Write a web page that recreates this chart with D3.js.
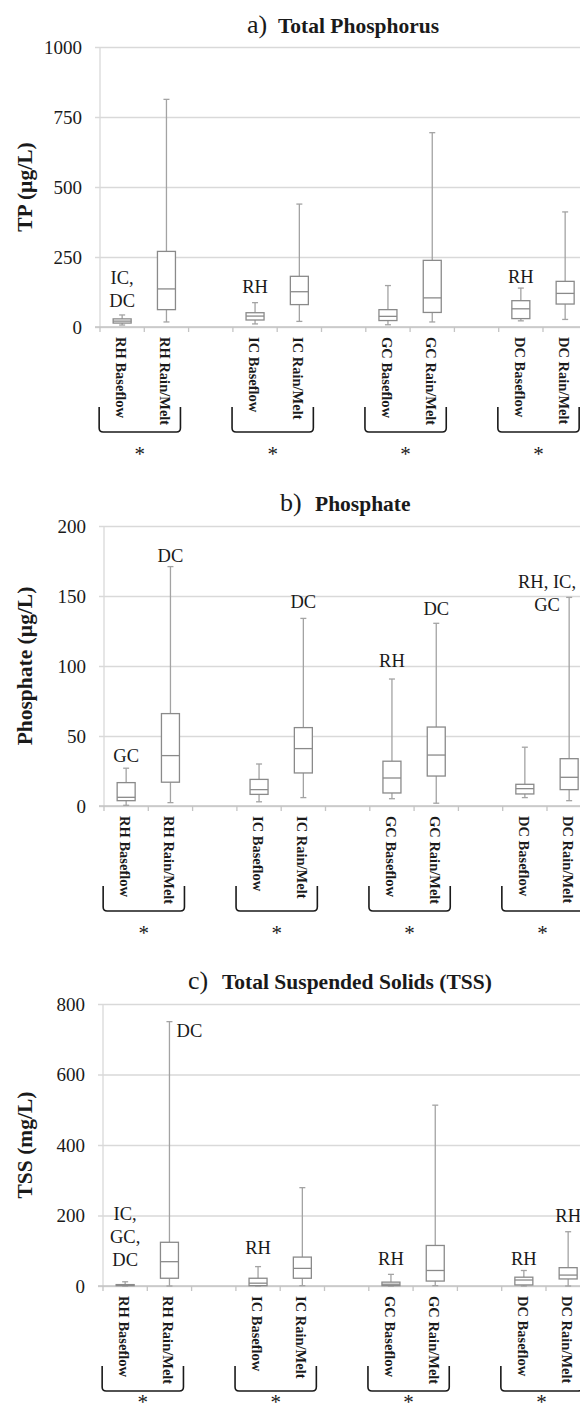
<!DOCTYPE html>
<html>
<head>
<meta charset="utf-8">
<script src="https://cdn.jsdelivr.net/npm/d3@7"></script>
<style>
  html, body { margin: 0; padding: 0; background: #fff; }
  svg { display: block; }
  svg text { font-family: "Liberation Serif", "Times New Roman", serif !important; fill: #1a1a1a; }
</style>
</head>
<body>
<svg id="chart" width="580" height="1414"></svg>
<script>
// ---------------- DATA ----------------
const categories = ["RH Baseflow", "RH Rain/Melt", "IC Baseflow", "IC Rain/Melt",
                    "GC Baseflow", "GC Rain/Melt", "DC Baseflow", "DC Rain/Melt"];
const sites = ["RH", "IC", "GC", "DC"];

// each entry: [min, q1, median, q3, max]
const tpValues = [
  [7, 14, 21, 29, 43],
  [18, 62, 136, 270, 813],
  [11, 25, 39, 51, 87],
  [20, 80, 126, 181, 439],
  [8, 23, 38, 62, 148],
  [18, 52, 104, 238, 694],
  [22, 30, 65, 94, 139],
  [27, 82, 120, 163, 411]
];
const phosphateValues = [
  [0.5, 3.8, 6.2, 16.7, 27],
  [2.4, 17, 36, 66, 171],
  [3, 8.3, 11.7, 19, 30],
  [6, 23.6, 41, 56, 134],
  [5.2, 9.3, 20, 32, 90.7],
  [2, 21.4, 36.4, 56.4, 130.5],
  [6, 8.6, 12.4, 15.5, 42],
  [3.8, 11.7, 20.5, 33.8, 149]
];
const tssValues = [
  [0, 1, 2, 4, 12],
  [0, 22, 69, 124, 750],
  [0, 1, 8, 22, 55],
  [1, 22, 50, 82, 279],
  [0, 1, 5, 11, 33],
  [1, 14, 44, 115, 513],
  [0, 3, 17, 25, 44],
  [0, 20, 31, 52, 154]
];

const tpTicks = [0, 250, 500, 750, 1000];
const phosphateTicks = [0, 50, 100, 150, 200];
const tssTicks = [0, 200, 400, 600, 800];

// significance letters: category, lines, value of the last line (y data units)
const tpNotes = [
  { cat: "RH Baseflow", lines: ["IC,", "DC"], at: 93 },
  { cat: "IC Baseflow", lines: ["RH"], at: 146 },
  { cat: "DC Baseflow", lines: ["RH"], at: 182 }
];
const phosphateNotes = [
  { cat: "RH Baseflow", lines: ["GC"], at: 36 },
  { cat: "RH Rain/Melt", lines: ["DC"], at: 179 },
  { cat: "IC Rain/Melt", lines: ["DC"], at: 146 },
  { cat: "GC Baseflow", lines: ["RH"], at: 104 },
  { cat: "GC Rain/Melt", lines: ["DC"], at: 141 },
  { cat: "DC Rain/Melt", lines: ["RH, IC,", "GC"], at: 144, shift: -0.5 }
];
const tssNotes = [
  { cat: "RH Baseflow", lines: ["IC,", "GC,", "DC"], at: 74 },
  { cat: "RH Rain/Melt", lines: ["DC"], at: 726, shift: 0.16, anchor: "start" },
  { cat: "IC Baseflow", lines: ["RH"], at: 108 },
  { cat: "GC Baseflow", lines: ["RH"], at: 77 },
  { cat: "DC Baseflow", lines: ["RH"], at: 79 },
  { cat: "DC Rain/Melt", lines: ["RH"], at: 199 }
];

// ---------------- LAYOUT ----------------
const panels = [
  { letter: "a)", title: "Total Phosphorus", yLabel: "TP (\u00b5g/L)", values: tpValues, ticks: tpTicks, notes: tpNotes,
    x0: 100, top: 47, bottom: 327, titleY: 33, letterX: 247, titleX: 278 },
  { letter: "b)", title: "Phosphate", yLabel: "Phosphate (\u00b5g/L)", values: phosphateValues, ticks: phosphateTicks, notes: phosphateNotes,
    x0: 104, top: 526, bottom: 806, titleY: 511, letterX: 280, titleX: 315 },
  { letter: "c)", title: "Total Suspended Solids (TSS)", yLabel: "TSS (mg/L)", values: tssValues, ticks: tssTicks, notes: tssNotes,
    x0: 103, top: 1004, bottom: 1286, titleY: 989, letterX: 188, titleX: 222 }
];

const bandW = 44.3;
const slots = [];
sites.forEach((s, i) => {
  categories.filter(c => c.startsWith(s + " ")).forEach(c => slots.push(c));
  if (i < sites.length - 1) slots.push("gap" + i);
});

const svg = d3.select("#chart");
const serif = "Liberation Serif, Times New Roman, serif";
const boxW = 18, capW = 6;
const gridColor = "#d9d9d9", boxColor = "#8a8a8a", whiskColor = "#a3a3a3";

panels.forEach(p => {
  const g = svg.append("g").attr("font-family", serif);
  const x = d3.scaleBand().domain(slots).range([p.x0, p.x0 + slots.length * bandW]).paddingInner(0).paddingOuter(0);
  const y = d3.scaleLinear().domain([p.ticks[0], p.ticks[p.ticks.length - 1]]).range([p.bottom, p.top]);
  const cx = c => x(c) + x.bandwidth() / 2;

  // title
  const t = g.append("text").attr("y", p.titleY);
  t.append("tspan").attr("x", p.letterX).style("font-size", "26px").text(p.letter);
  t.append("tspan").attr("x", p.titleX).style("font-size", "21.5px").style("font-weight", "bold").text(p.title);

  // y axis with gridlines
  const yAxis = d3.axisLeft(y).tickValues(p.ticks).tickSize(0).tickPadding(13).tickFormat(d3.format("d"));
  const ya = g.append("g").attr("transform", `translate(${p.x0 - 5},0)`).call(yAxis)
    .attr("font-family", serif).attr("font-size", 19);
  ya.select(".domain").remove();
  ya.selectAll(".tick line").attr("x1", 0).attr("x2", 580 - p.x0 + 10)
    .attr("stroke", gridColor).attr("stroke-width", 1.3);
  ya.selectAll(".tick text").attr("font-family", serif).attr("fill", "#1a1a1a");

  // vertical axis line
  g.append("line").attr("x1", p.x0).attr("x2", p.x0).attr("y1", p.top).attr("y2", p.bottom)
    .attr("stroke", gridColor).attr("stroke-width", 1.3);

  // x axis baseline + ticks at band boundaries
  g.append("line").attr("x1", p.x0 - 5).attr("x2", 580).attr("y1", p.bottom).attr("y2", p.bottom)
    .attr("stroke", "#c4c4c4").attr("stroke-width", 1.3);
  g.selectAll(".xt").data(slots).enter().append("line")
    .attr("x1", d => x(d)).attr("x2", d => x(d))
    .attr("y1", p.bottom).attr("y2", p.bottom + 5)
    .attr("stroke", "#c4c4c4").attr("stroke-width", 1.3);

  // category labels (rotated)
  g.selectAll(".cl").data(categories).enter().append("text")
    .attr("transform", d => `translate(${cx(d) - 1},${p.bottom + 10}) rotate(90)`)
    .attr("dy", "0.35em")
    .style("font-size", "14.5px").style("font-weight", "bold")
    .text(d => d);

  // y label
  g.append("text")
    .attr("transform", `translate(24,${(p.top + p.bottom) / 2}) rotate(-90)`)
    .attr("text-anchor", "middle").attr("dy", "0.35em")
    .style("font-size", "21.5px").style("font-weight", "bold")
    .text(p.yLabel);

  // boxes
  const bx = g.selectAll(".box").data(categories.map((c, i) => ({ c, v: p.values[i] }))).enter().append("g");
  bx.append("line").attr("x1", d => cx(d.c)).attr("x2", d => cx(d.c))
    .attr("y1", d => y(d.v[4])).attr("y2", d => y(d.v[3])).attr("stroke", whiskColor).attr("stroke-width", 1.3);
  bx.append("line").attr("x1", d => cx(d.c)).attr("x2", d => cx(d.c))
    .attr("y1", d => y(d.v[1])).attr("y2", d => y(d.v[0])).attr("stroke", whiskColor).attr("stroke-width", 1.3);
  [0, 4].forEach(k => {
    bx.append("line").attr("x1", d => cx(d.c) - capW / 2).attr("x2", d => cx(d.c) + capW / 2)
      .attr("y1", d => y(d.v[k])).attr("y2", d => y(d.v[k])).attr("stroke", whiskColor).attr("stroke-width", 1.3);
  });
  bx.append("rect").attr("x", d => cx(d.c) - boxW / 2).attr("width", boxW)
    .attr("y", d => y(d.v[3])).attr("height", d => Math.max(1, y(d.v[1]) - y(d.v[3])))
    .attr("fill", "#fff").attr("stroke", boxColor).attr("stroke-width", 1.3);
  bx.append("line").attr("x1", d => cx(d.c) - boxW / 2).attr("x2", d => cx(d.c) + boxW / 2)
    .attr("y1", d => y(d.v[2])).attr("y2", d => y(d.v[2])).attr("stroke", boxColor).attr("stroke-width", 1.3);

  // significance notes
  p.notes.forEach(n => {
    const nx = cx(n.cat) + (n.shift || 0) * bandW;
    const lastY = y(n.at);
    const k = n.lines.length;
    n.lines.forEach((ln, i) => {
      g.append("text").attr("x", nx).attr("y", lastY - (k - 1 - i) * 23)
        .attr("dy", "0.35em").attr("text-anchor", n.anchor || "middle")
        .style("font-size", "18.5px").text(ln);
    });
  });

  // brackets + asterisks
  sites.forEach(s => {
    const b = cx(s + " Baseflow") - 23, r = cx(s + " Rain/Melt") + 14;
    const yt = p.bottom + 80, yb = p.bottom + 105, rr = 4;
    g.append("path")
      .attr("d", `M${b},${yt} V${yb - rr} Q${b},${yb} ${b + rr},${yb} H${r - rr} Q${r},${yb} ${r},${yb - rr} V${yt}`)
      .attr("fill", "none").attr("stroke", "#1a1a1a").attr("stroke-width", 1.6);
    g.append("text").attr("x", (b + r) / 2).attr("y", Math.min(p.bottom + 134, 1409.3))
      .attr("text-anchor", "middle").style("font-size", "21px").text("*");
  });
});
</script>
</body>
</html>
